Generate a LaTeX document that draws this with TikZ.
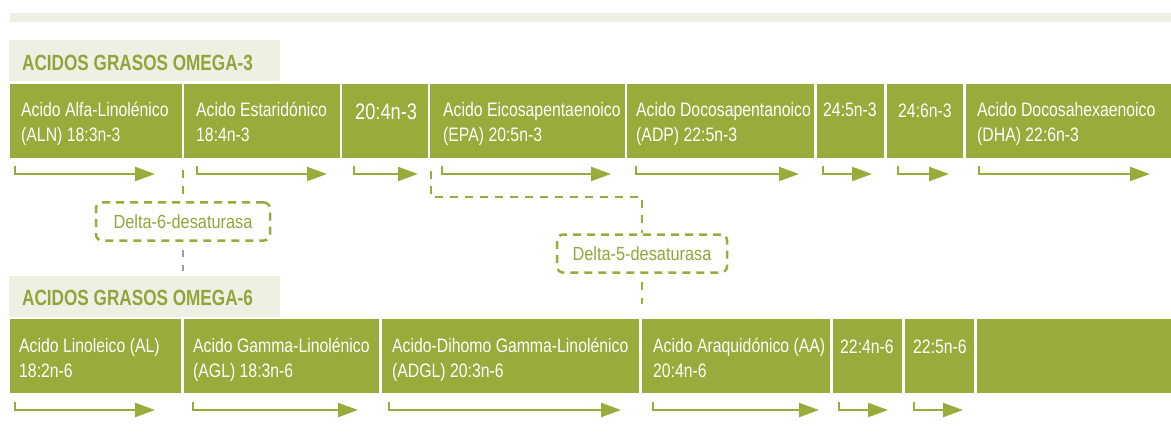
\documentclass[tikz,border=0pt]{standalone}
\usepackage{fontspec}
\setmainfont{Liberation Sans}[FakeStretch=0.86]
\newfontfamily\boxfont{Liberation Sans}[FakeStretch=0.81]
\newfontfamily\headfont{Liberation Sans}[FakeStretch=0.78]
\usetikzlibrary{arrows.meta}
\definecolor{Olive}{HTML}{98AB3B}
\definecolor{OliveText}{HTML}{90A53A}
\definecolor{Pale}{HTML}{EEF0E4}
\definecolor{Stone}{HTML}{A39E92}

\begin{document}
\begin{tikzpicture}[x=1pt,y=-1pt,
    lbl/.style={anchor=base west,inner sep=0pt,text=white,align=left,font=\boxfont\fontsize{19.5}{24.5}\selectfont},
    head/.style={anchor=base west,inner sep=0pt,text=OliveText,font=\headfont\bfseries\fontsize{22}{24}\selectfont},
    flow/.style={draw=Olive,line width=2.2pt,-{Triangle[length=20pt,width=14pt]}},
    enzyme/.style={draw=Olive,line width=2.5pt,dash pattern=on 8pt off 6pt,rounded corners=6pt,
      text=OliveText,font=\fontsize{19}{22}\selectfont,minimum height=38pt,inner sep=0pt},
    link/.style={draw=Olive,line width=2.8pt}]
    \useasboundingbox (0,0) rectangle (1171,441);
    \fill[Pale] (10,13) rectangle (1171,22);

    \fill[Pale] (9,40) rectangle (280,81);
    \node[head] (h3) at (22,71) {ACIDOS GRASOS OMEGA-3};
    \fill[Olive] (10,84) rectangle (182,158);
    \fill[Olive] (184,84) rectangle (340,158);
    \fill[Olive] (342,84) rectangle (428,158);
    \fill[Olive] (430,84) rectangle (625,158);
    \fill[Olive] (627,84) rectangle (814,158);
    \fill[Olive] (817,84) rectangle (884,158);
    \fill[Olive] (887,84) rectangle (963,158);
    \fill[Olive] (966,84) rectangle (1171,158);
    % two-line labels sit on the baseline of their second line
    \node[lbl] (aln) at (21,141.5) {Acido Alfa-Linolénico\\(ALN) 18:3n-3};
    \node[lbl] (sda) at (196,141.5) {Acido Estaridónico\\18:4n-3};
    \node[lbl,font=\boxfont\fontsize{22.5}{24}\selectfont] (eta) at (355,120) {20:4n-3};
    \node[lbl] (epa) at (443,141.5) {Acido Eicosapentaenoico\\(EPA) 20:5n-3};
    \node[lbl] (adp) at (636,141.5) {Acido Docosapentanoico\\(ADP) 22:5n-3};
    \node[lbl] (tpa) at (823,117) {24:5n-3};
    \node[lbl] (tha) at (898,118) {24:6n-3};
    \node[lbl] (dha) at (977,141.5) {Acido Docosahexaenoico\\(DHA) 22:6n-3};
    \draw[flow] (15,166) |- (155,174);
    \draw[flow] (197,166) |- (327,174);
    \draw[flow] (354,166) |- (418,174);
    \draw[flow] (442,166) |- (611,174);
    \draw[flow] (636,166) |- (799,174);
    \draw[flow] (823,166) |- (872,174);
    \draw[flow] (898,166) |- (949,174);
    \draw[flow] (979,166) |- (1150,174);

    \node[enzyme,minimum width=174pt] (d6) at (183,221.5) {Delta-6-desaturasa};
    \node[enzyme,minimum width=170pt] (d5) at (642,253.5) {Delta-5-desaturasa};
    \coordinate (d6top) at (183,170);
    \coordinate (d6end) at (183,271);
    \coordinate (d5top) at (431,171);
    \coordinate (d5bend) at (431,197);
    \coordinate (d5end) at (642,304);
    \draw[link,dash pattern=on 8pt off 8pt] (d6top) -- (d6.north);
    \draw[link,draw=Stone,dash pattern=on 7pt off 8pt,dash phase=7pt] (d6.south) -- (d6end);
    \draw[link,dash pattern=on 8pt off 7pt] (d5top) -- (d5bend) -| (d5.north);
    \draw[link,dash pattern=on 8pt off 8pt,dash phase=8pt] (d5.south) -- (d5end);

    \fill[Pale] (9,276) rectangle (280,317);
    \node[head] (h6) at (22,305) {ACIDOS GRASOS OMEGA-6};
    \fill[Olive] (10,319) rectangle (181,393);
    \fill[Olive] (184,319) rectangle (379,393);
    \fill[Olive] (382,319) rectangle (639,393);
    \fill[Olive] (642,319) rectangle (830,393);
    \fill[Olive] (833,319) rectangle (902,393);
    \fill[Olive] (905,319) rectangle (974,393);
    \fill[Olive] (977,319) rectangle (1171,393);
    \node[lbl] (al) at (19,377) {Acido Linoleico (AL)\\18:2n-6};
    \node[lbl] (agl) at (193,377) {Acido Gamma-Linolénico\\(AGL) 18:3n-6};
    \node[lbl] (adgl) at (392,377) {Acido-Dihomo Gamma-Linolénico\\(ADGL) 20:3n-6};
    \node[lbl] (aa) at (653,377) {Acido Araquidónico (AA)\\20:4n-6};
    \node[lbl] (dta) at (840,353) {22:4n-6};
    \node[lbl] (dpa) at (913,353) {22:5n-6};
    \draw[flow] (15,402) |- (155,410);
    \draw[flow] (193,402) |- (358,410);
    \draw[flow] (389,402) |- (621,410);
    \draw[flow] (653,402) |- (819,410);
    \draw[flow] (839,402) |- (888,410);
    \draw[flow] (914,402) |- (963,410);
\end{tikzpicture}
\end{document}
